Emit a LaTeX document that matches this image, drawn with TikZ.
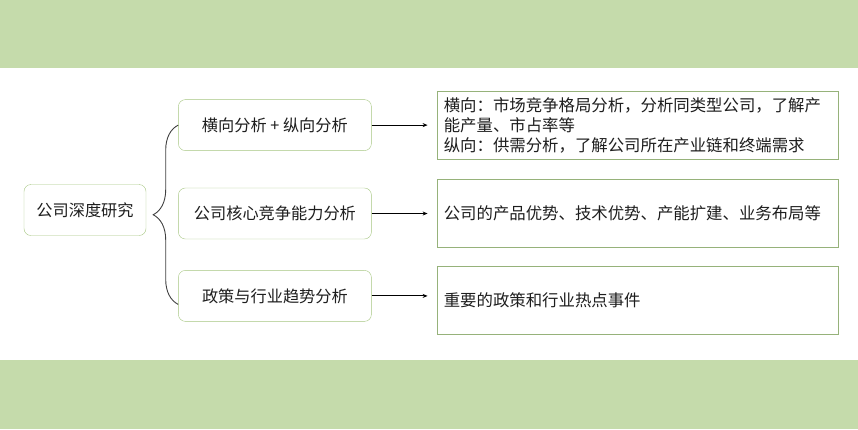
\documentclass[tikz,border=0pt]{standalone}
\usepackage{fontspec}
\newfontfamily\cjk{Noto Sans CJK SC}
\usetikzlibrary{arrows.meta, positioning, calc, decorations.pathreplacing}

\definecolor{bandgreen}{RGB}{197,219,171}
\definecolor{boxgreen}{RGB}{165,198,128}
\definecolor{detailgreen}{RGB}{150,178,122}
\definecolor{inktext}{RGB}{30,30,30}

\begin{document}
\begin{tikzpicture}[
        x=1pt, y=-1pt,
        % estilos das caixas
        rootbox/.style={rectangle, draw=boxgreen, rounded corners=7pt, fill=white, minimum width=122pt, minimum height=51pt, align=center, font=\cjk\fontsize{16.2}{20}\selectfont, text=inktext},
        topicbox/.style={rectangle, draw=boxgreen, rounded corners=7pt, fill=white, minimum width=193pt, minimum height=51pt, align=center, font=\cjk\fontsize{16.2}{20}\selectfont, text=inktext},
        detailbox/.style={rectangle, draw=detailgreen, fill=white, minimum width=401pt, minimum height=68pt, text width=387pt, inner xsep=7pt, align=left, font=\cjk\fontsize{16.4}{20}\selectfont, text=inktext},
        arrow/.style={-{Stealth[length=5pt, width=4pt]}, line width=0.9pt, draw=black, shorten >=9pt},
        bracket/.style={decorate, decoration={brace, amplitude=25pt, aspect=0.5}, line width=0.9pt, draw=black!75}
    ]

    % fundo: faixas verdes
    \useasboundingbox (0,0) rectangle (858,429);
    \fill[bandgreen] (0,0) rectangle (858,68);
    \fill[bandgreen] (0,360) rectangle (858,429);

    % raiz
    \node (root) [rootbox] at (85,210) {公司深度研究};

    % topicos
    \node (topic2) [topicbox, right=32pt of root, yshift=-3.5pt] {公司核心竞争能力分析};
    \node (topic1) [topicbox, above=37pt of topic2] {横向分析 + 纵向分析};
    \node (topic3) [topicbox, below=31pt of topic2] {政策与行业趋势分析};

    % detalhes
    \node (detail1) [detailbox, right=65pt of topic1] {横向：市场竞争格局分析，分析同类型公司，了解产\\能产量、市占率等\\纵向：供需分析，了解公司所在产业链和终端需求};
    \node (detail2) [detailbox, right=65pt of topic2] {公司的产品优势、技术优势、产能扩建、业务布局等};
    \node (detail3) [detailbox, right=65pt of topic3, yshift=-4.5pt] {重要的政策和行业热点事件};

    % chave
    \draw [bracket] ($(topic3.west)+(0,8.5)$) -- (topic1.west);

    % setas
    \draw [arrow] (topic1.east) -- (topic1.east -| detail1.west);
    \draw [arrow] (topic2.east) -- (topic2.east -| detail2.west);
    \draw [arrow] (topic3.east) -- (topic3.east -| detail3.west);

\end{tikzpicture}
\end{document}
